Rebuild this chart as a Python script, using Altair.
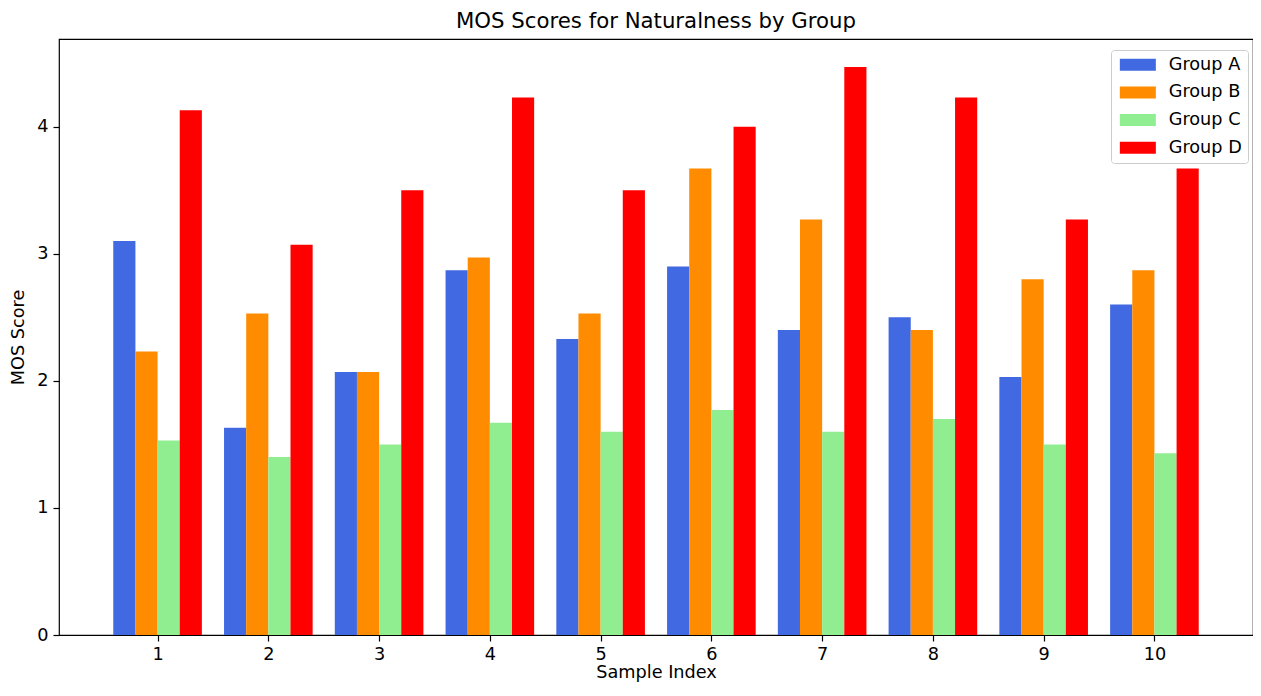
import altair as alt
import pandas as pd

# ---- data ----
samples = [1, 2, 3, 4, 5, 6, 7, 8, 9, 10]
groups = ["Group A", "Group B", "Group C", "Group D"]
group_a = [3.10, 1.63, 2.07, 2.87, 2.33, 2.90, 2.40, 2.50, 2.03, 2.60]
group_b = [2.23, 2.53, 2.07, 2.97, 2.53, 3.67, 3.27, 2.40, 2.80, 2.87]
group_c = [1.53, 1.40, 1.50, 1.67, 1.60, 1.77, 1.60, 1.70, 1.50, 1.43]
group_d = [4.13, 3.07, 3.50, 4.23, 3.50, 4.00, 4.47, 4.23, 3.27, 3.67]
colors = ["#4169E1", "#FF8C00", "#90EE90", "#FF0000"]
x_ticks = [1, 2, 3, 4, 5, 6, 7, 8, 9, 10]
y_ticks = [0, 1, 2, 3, 4]

series = [group_a, group_b, group_c, group_d]
rows = []
for gi, (g, vals) in enumerate(zip(groups, series)):
    for s, v in zip(samples, vals):
        rows.append({"sample": s, "group": g, "gi": gi, "score": v})
df = pd.DataFrame(rows)

FONT = "DejaVu Sans"
FS = 17.7

bars = alt.Chart(df).transform_calculate(
    x0="datum.sample + (datum.gi - 2) * 0.2",
    x1="datum.sample + (datum.gi - 1) * 0.2",
).mark_rect().encode(
    x=alt.X("x0:Q", title="Sample Index",
            scale=alt.Scale(domain=[0.11, 10.89], nice=False, zero=False),
            axis=alt.Axis(values=x_ticks, format="d", grid=False, domain=False,
                          tickColor="black", tickSize=6, tickWidth=1.2,
                          labelPadding=4, titlePadding=1,
                          labelFontSize=FS, titleFontSize=FS,
                          labelFont=FONT, titleFont=FONT,
                          labelColor="black", titleColor="black",
                          titleFontWeight="normal")),
    x2="x1:Q",
    y=alt.Y("score:Q", title="MOS Score",
            scale=alt.Scale(domain=[0, 4.69], nice=False),
            axis=alt.Axis(values=y_ticks, format="d", grid=False, domain=False,
                          tickColor="black", tickSize=6, tickWidth=1.2,
                          labelPadding=5, titlePadding=9,
                          labelFontSize=FS, titleFontSize=FS,
                          labelFont=FONT, titleFont=FONT,
                          labelColor="black", titleColor="black",
                          titleFontWeight="normal")),
    y2=alt.datum(0),
    color=alt.Color("group:N", sort=groups,
                    scale=alt.Scale(domain=groups, range=colors),
                    legend=alt.Legend(
                        title=None, orient="none", legendX=1052, legendY=11,
                        symbolType="M-1,-1L5,-1L5,1L-1,1Z", symbolSize=144,
                        symbolStrokeWidth=0, labelOffset=34,
                        labelFontSize=FS, labelFont=FONT, labelColor="black",
                        rowPadding=8.6, padding=6,
                        strokeColor="#cccccc", fillColor="rgba(255,255,255,0.8)",
                        cornerRadius=3)),
)

chart = bars.properties(
    width=1194, height=596,
    title=alt.TitleParams("MOS Scores for Naturalness by Group", fontSize=21.25,
                          font=FONT, fontWeight="normal", color="black",
                          anchor="middle", baseline="alphabetic", offset=-10),
    autosize=alt.AutoSizeParams(type="none"),
    padding={"left": 51, "top": 31, "right": 0, "bottom": 47},
).configure_view(stroke="black", strokeWidth=1.2)

chart.save("out.html", embed_options={"renderer": "svg", "actions": False})
